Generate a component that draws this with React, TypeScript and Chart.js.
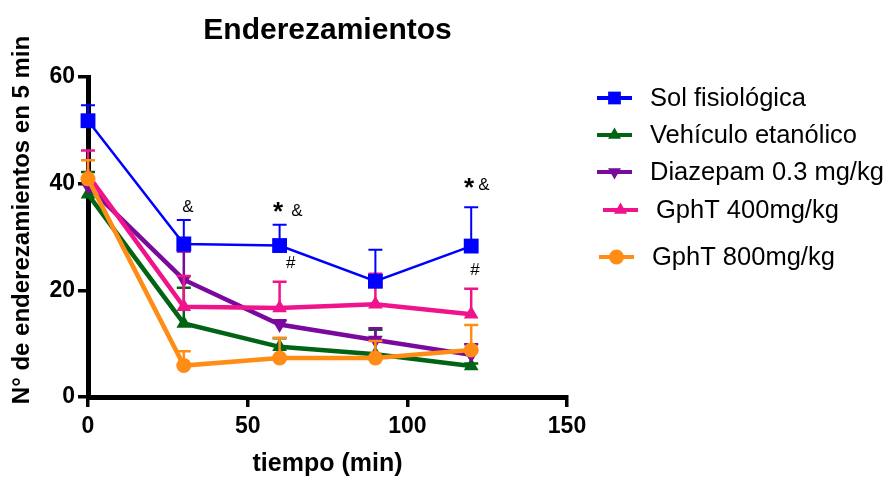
import React, { useEffect, useRef } from "react";
import { Chart, registerables } from "chart.js";

Chart.register(...registerables);

// ---- data ----
const times = [0, 30, 60, 90, 120];
const xTicks = [0, 50, 100, 150];
const yTicks = [0, 20, 40, 60];

const seriesNames = [
  "Sol fisiológica",
  "Vehículo etanólico",
  "Diazepam 0.3 mg/kg",
  "GphT 400mg/kg",
  "GphT 800mg/kg",
];

const solMean = [51.8, 28.7, 28.4, 21.7, 28.3];
const solSem = [2.9, 4.5, 3.9, 5.9, 7.3];
const vehMean = [38.0, 13.8, 9.4, 8.0, 5.8];
const vehSem = [4.2, 6.7, 1.6, 4.6, 0.5];
const diaMean = [39.5, 22.0, 13.6, 10.7, 7.9];
const diaSem = [1.5, 5.3, 0.8, 2.2, 2.0];
const g400Mean = [41.6, 16.9, 16.7, 17.4, 15.5];
const g400Sem = [4.6, 5.8, 4.9, 5.7, 4.8];
const g800Mean = [40.9, 5.9, 7.3, 7.3, 8.8];
const g800Sem = [3.5, 2.7, 3.8, 3.2, 4.7];

// significance marks: [x value, y value, text]
const annotations: [number, number, string][] = [
  [31.3, 35.5, "&"],
  [59.5, 35.3, "*"],
  [65.4, 34.9, "&"],
  [63.5, 25.1, "#"],
  [119.3, 39.7, "*"],
  [124.0, 39.7, "&"],
  [121.2, 23.8, "#"],
];

const colors = ["#0000FF", "#006414", "#7A0A9E", "#F0148C", "#FF8C14"];
const means = [solMean, vehMean, diaMean, g400Mean, g800Mean];
const sems = [solSem, vehSem, diaSem, g400Sem, g800Sem];
const styles = ["rect", "triangle", "triangle", "triangle", "circle"];
const rotations = [0, 0, 180, 0, 0];
const radii = [10.5, 8.5, 8.5, 8.5, 7.5];
const lineWidths = [2.5, 4.5, 4.5, 4.5, 4.5];
const orders = [0, 4, 3, 2, 1];

const FONT = "'Liberation Sans', Arial, sans-serif";

function drawMarker(ctx: CanvasRenderingContext2D, style: string, rot: number, x: number, y: number, r: number, color: string) {
  ctx.save();
  ctx.fillStyle = color;
  ctx.translate(x, y);
  ctx.rotate((rot * Math.PI) / 180);
  ctx.beginPath();
  if (style === "rect") {
    const s = r * Math.SQRT1_2;
    ctx.rect(-s, -s, 2 * s, 2 * s);
  } else if (style === "triangle") {
    ctx.moveTo(0, -r);
    ctx.lineTo(r * Math.cos(Math.PI / 6), r * 0.5);
    ctx.lineTo(-r * Math.cos(Math.PI / 6), r * 0.5);
    ctx.closePath();
  } else {
    ctx.arc(0, 0, r, 0, Math.PI * 2);
  }
  ctx.fill();
  ctx.restore();
}

const errorBarPlugin = {
  id: "errorBars",
  beforeDatasetDraw(chart: any, args: any) {
    const i = args.index;
    const ctx = chart.ctx;
    const xs = chart.scales.x;
    const ys = chart.scales.y;
    ctx.save();
    ctx.strokeStyle = colors[i];
    ctx.lineWidth = i === 0 ? 2 : 2.5;
    means[i].forEach((m, j) => {
      const px = xs.getPixelForValue(times[j]);
      const py = ys.getPixelForValue(m);
      const pt = ys.getPixelForValue(m + sems[i][j]);
      ctx.beginPath();
      ctx.moveTo(px, py);
      ctx.lineTo(px, pt);
      ctx.moveTo(px - 7, pt);
      ctx.lineTo(px + 7, pt);
      ctx.stroke();
    });
    ctx.restore();
  },
};

const legendLayout = [
  { lx: 597, y: 98, tx: 650 },
  { lx: 597, y: 135, tx: 650 },
  { lx: 597, y: 172, tx: 650 },
  { lx: 603, y: 210, tx: 656 },
  { lx: 599, y: 257, tx: 652 },
];

const decorPlugin = {
  id: "decor",
  afterDraw(chart: any) {
    const ctx = chart.ctx as CanvasRenderingContext2D;
    const xs = chart.scales.x;
    const ys = chart.scales.y;
    ctx.save();
    // annotations
    ctx.fillStyle = "#000";
    ctx.textAlign = "center";
    ctx.textBaseline = "middle";
    annotations.forEach(([xv, yv, t]) => {
      ctx.font = t === "*" ? `bold 26px ${FONT}` : `17px ${FONT}`;
      const py = ys.getPixelForValue(yv) + (t === "*" ? 4 : 0);
      ctx.fillText(t, xs.getPixelForValue(xv), py);
    });
    // y axis title
    ctx.save();
    ctx.translate(22, 220);
    ctx.rotate(-Math.PI / 2);
    ctx.font = `bold 24px ${FONT}`;
    ctx.fillText("N° de enderezamientos en 5 min", 0, 0);
    ctx.restore();
    // legend
    seriesNames.forEach((name, i) => {
      const L = legendLayout[i];
      ctx.strokeStyle = colors[i];
      ctx.lineWidth = 4;
      ctx.beginPath();
      ctx.moveTo(L.lx, L.y);
      ctx.lineTo(L.lx + 35, L.y);
      ctx.stroke();
      drawMarker(ctx, styles[i], rotations[i], L.lx + 17.5, L.y, styles[i] === "rect" ? 9 : 7.5, colors[i]);
      ctx.fillStyle = "#000";
      ctx.textAlign = "left";
      ctx.font = `25.5px ${FONT}`;
      ctx.fillText(name, L.tx, L.y + 1);
    });
    ctx.restore();
  },
};

export default function App() {
  const ref = useRef<HTMLCanvasElement | null>(null);
  useEffect(() => {
    if (!ref.current) return;
    const chart = new Chart(ref.current, {
      type: "line",
      data: {
        datasets: seriesNames.map((name, i) => ({
          label: name,
          data: times.map((t, j) => ({ x: t, y: means[i][j] })),
          borderColor: colors[i],
          backgroundColor: colors[i],
          borderWidth: lineWidths[i],
          pointStyle: styles[i] as any,
          pointRotation: rotations[i],
          pointRadius: radii[i],
          pointBorderWidth: 0,
          pointBackgroundColor: colors[i],
          tension: 0,
          clip: false as any,
          order: orders[i],
        })),
      },
      options: {
        animation: false,
        responsive: false,
        layout: { padding: { left: 0, right: 327, top: 0, bottom: 0 } },
        plugins: {
          legend: { display: false },
          tooltip: { enabled: false },
          title: {
            display: true,
            text: "Enderezamientos",
            fullSize: false,
            color: "#000",
            font: { family: FONT, size: 30, weight: "bold" },
            padding: { top: 13, bottom: 28 },
          },
        },
        scales: {
          x: {
            type: "linear",
            min: 0,
            max: 150,
            afterBuildTicks: (s: any) => {
              s.ticks = xTicks.map((v) => ({ value: v }));
            },
            afterFit: (s: any) => {
              s.height = 83;
            },
            ticks: {
              color: "#000",
              font: { family: FONT, size: 23, weight: "bold" },
              padding: 6,
              maxRotation: 0,
            },
            grid: {
              drawOnChartArea: false,
              drawTicks: true,
              tickLength: 10,
              color: "#000",
              lineWidth: 3.5,
            },
            border: { display: true, color: "#000", width: 5 },
            title: {
              display: true,
              text: "tiempo (min)",
              color: "#000",
              font: { family: FONT, size: 25, weight: "bold" },
              padding: { top: 0, bottom: 1 },
            },
          },
          y: {
            type: "linear",
            min: 0,
            max: 60,
            afterBuildTicks: (s: any) => {
              s.ticks = yTicks.map((v) => ({ value: v }));
            },
            afterFit: (s: any) => {
              s.width = 88;
            },
            ticks: {
              color: "#000",
              font: { family: FONT, size: 23, weight: "bold" },
              padding: 3,
            },
            grid: {
              drawOnChartArea: false,
              drawTicks: true,
              tickLength: 10,
              color: "#000",
              lineWidth: 3.5,
            },
            border: { display: true, color: "#000", width: 5 },
          },
        },
      },
      plugins: [errorBarPlugin, decorPlugin],
    });
    return () => chart.destroy();
  }, []);
  return (
    <div style={{ position: "absolute", left: 0, top: 0, width: 894, height: 480, background: "#fff" }}>
      <canvas ref={ref} width={894} height={480} />
    </div>
  );
}
